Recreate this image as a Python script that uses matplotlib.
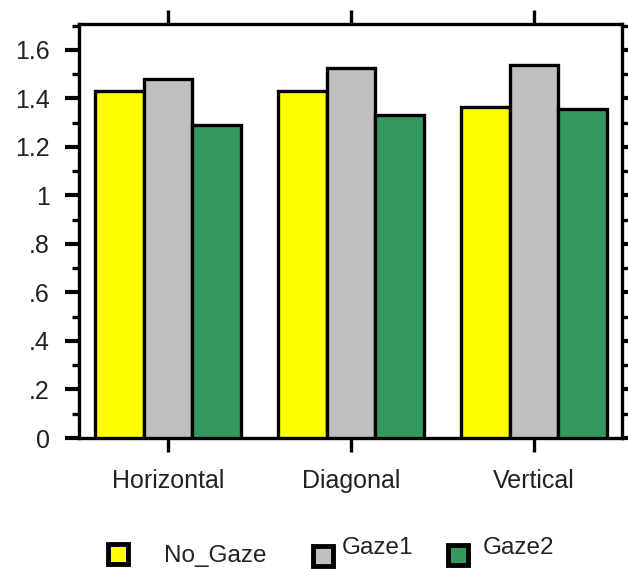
import numpy as np
import matplotlib.pyplot as plt
from matplotlib.patches import Rectangle
from matplotlib.ticker import MultipleLocator, FixedLocator

plt.rcParams['font.family'] = ['Liberation Sans', 'DejaVu Sans']

# data
categories = ['Horizontal', 'Diagonal', 'Vertical']
series = ['No_Gaze', 'Gaze1', 'Gaze2']
no_gaze = [1.43, 1.43, 1.365]
gaze1 = [1.48, 1.525, 1.54]
gaze2 = [1.29, 1.33, 1.355]
ytick_vals = [0, 0.2, 0.4, 0.6, 0.8, 1.0, 1.2, 1.4, 1.6]
ytick_labels = ['0', '.2', '.4', '.6', '.8', '1', '1.2', '1.4', '1.6']

colors = ['#ffff00', '#c0c0c0', '#339960']
txt_col = '#222222'
W, H = 628, 569

fig = plt.figure(figsize=(W / 100, H / 100), dpi=100)
ax = fig.add_axes([79 / W, 1 - 438 / H, (622 - 79) / W, (438 - 24) / H])

x = np.arange(len(categories))
bw = 0.265
for i, (vals, c) in enumerate(zip([no_gaze, gaze1, gaze2], colors)):
    ax.bar(x + (i - 1) * bw, vals, width=bw, color=c, edgecolor='black',
           linewidth=2.4, zorder=3)

ax.set_xlim(-0.487, 2.48)
ax.set_ylim(0, 1.707)

for s in ax.spines.values():
    s.set_linewidth(2.4)

ax.yaxis.set_major_locator(FixedLocator(ytick_vals))
ax.set_yticklabels(ytick_labels)
ax.yaxis.set_minor_locator(MultipleLocator(0.1))
ax.tick_params(axis='y', which='major', direction='out', length=10, width=3,
               left=True, right=True, labelsize=18, labelcolor=txt_col, pad=11)
ax.tick_params(axis='y', which='minor', direction='out', length=5, width=2.4,
               left=True, right=True)

ax.set_xticks(x)
ax.set_xticklabels(categories)
ax.tick_params(axis='x', direction='out', length=10, width=2.4, top=True,
               bottom=True, labelsize=18, labelcolor=txt_col, pad=12)

# legend drawn by hand to keep the uneven spacing of the original
leg = [(108, 544, 164, 562), (313, 546, 342, 554), (448, 545, 483, 554)]
for (sx, sy, tx, ty), name, c in zip(leg, series, colors):
    fig.add_artist(Rectangle((sx / W, 1 - (sy + 20) / H), 20 / W, 20 / H,
                             facecolor=c, edgecolor='black', linewidth=3.5,
                             transform=fig.transFigure))
    fig.text(tx / W, 1 - ty / H, name, fontsize=17.5, color=txt_col,
             ha='left', va='baseline')

fig.savefig('out.png', dpi=100)
